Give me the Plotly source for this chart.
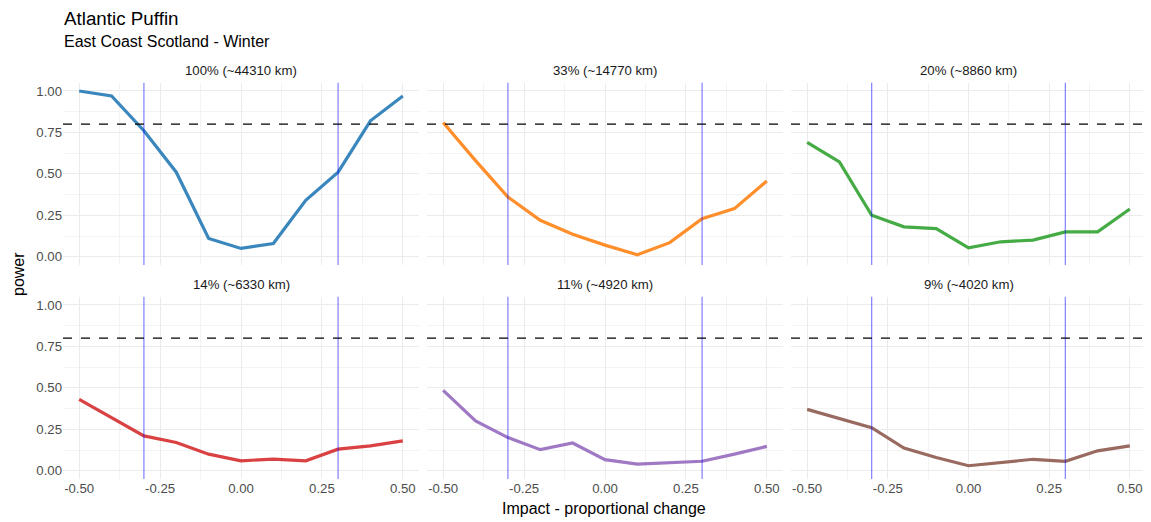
import plotly.graph_objects as go

impact = [-0.5, -0.4, -0.3, -0.2, -0.1, 0.0, 0.1, 0.2, 0.3, 0.4, 0.5]

panel_titles = ["100% (~44310 km)", "33% (~14770 km)", "20% (~8860 km)",
                "14% (~6330 km)", "11% (~4920 km)", "9% (~4020 km)"]

power_100 = [1.00, 0.97, 0.76, 0.51, 0.11, 0.05, 0.08, 0.34, 0.51, 0.82, 0.97]
power_33 = [0.81, 0.58, 0.36, 0.22, 0.135, 0.07, 0.012, 0.085, 0.23, 0.29, 0.457]
power_20 = [0.69, 0.572, 0.25, 0.18, 0.17, 0.054, 0.09, 0.10, 0.15, 0.15, 0.288]
power_14 = [0.43, 0.32, 0.21, 0.17, 0.10, 0.06, 0.07, 0.06, 0.13, 0.15, 0.18]
power_11 = [0.485, 0.30, 0.20, 0.127, 0.167, 0.067, 0.04, 0.05, 0.057, 0.10, 0.147]
power_9 = [0.37, 0.317, 0.26, 0.137, 0.08, 0.03, 0.05, 0.069, 0.057, 0.12, 0.15]

series = [power_100, power_33, power_20, power_14, power_11, power_9]
colors = ["#1f77b4", "#ff7f0e", "#2ca02c", "#d62728", "#9467bd", "#8c564b"]

power_threshold = 0.8
impact_markers = [-0.3, 0.3]

x_ticks = [-0.5, -0.25, 0.0, 0.25, 0.5]
x_ticktext = ["-0.50", "-0.25", "0.00", "0.25", "0.50"]
y_ticks = [0.0, 0.25, 0.5, 0.75, 1.0]
y_ticktext = ["0.00", "0.25", "0.50", "0.75", "1.00"]

# page body has an 8px margin: figure is drawn offset by (8, 8)
OFF = 8
W, H = 1151 - OFF, 522 - OFF
FONT = "Liberation Sans, Arial, sans-serif"


def px_x(v):
    return (v - OFF) / W


def px_y(v):
    return 1 - (v - OFF) / H


col_px = [(63, 419), (427, 783), (791, 1146)]
row_px = [(82.7, 265), (296.7, 479)]

fig = go.Figure()
layout_axes = {}
for i, vals in enumerate(series):
    r, c = divmod(i, 3)
    n = i + 1
    xa = "x" if n == 1 else f"x{n}"
    ya = "y" if n == 1 else f"y{n}"
    fig.add_trace(go.Scatter(
        x=impact, y=vals, mode="lines", xaxis=xa, yaxis=ya,
        line=dict(color=colors[i], width=3.2), opacity=0.88, showlegend=False,
    ))
    x0, x1 = col_px[c]
    yt, yb = row_px[r]
    xkey = "xaxis" if n == 1 else f"xaxis{n}"
    ykey = "yaxis" if n == 1 else f"yaxis{n}"
    layout_axes[xkey] = dict(
        domain=[px_x(x0), px_x(x1)], anchor=ya, range=[-0.55, 0.55],
        tickvals=x_ticks, ticktext=x_ticktext, showticklabels=(r == 1),
        showgrid=True, gridcolor="#ebebeb", gridwidth=1,
        minor=dict(dtick=0.125, tick0=-0.5, showgrid=True, gridcolor="#f3f3f3", gridwidth=1),
        zeroline=False, showline=False, ticks="",
        tickfont=dict(family=FONT, size=13.2, color="#4d4d4d"),
    )
    layout_axes[ykey] = dict(
        domain=[px_y(yb), px_y(yt)], anchor=xa, range=[-0.05, 1.05],
        tickvals=y_ticks, ticktext=y_ticktext, showticklabels=(c == 0),
        showgrid=True, gridcolor="#ebebeb", gridwidth=1,
        minor=dict(dtick=0.125, tick0=0, showgrid=True, gridcolor="#f3f3f3", gridwidth=1),
        zeroline=False, showline=False, ticks="",
        tickfont=dict(family=FONT, size=13.2, color="#4d4d4d"),
    )
    for xv in impact_markers:
        fig.add_shape(type="line", xref=xa, yref=f"{ya} domain", x0=xv, x1=xv, y0=0, y1=1,
                      line=dict(color="rgba(0,0,255,0.5)", width=1.2), layer="above")
    fig.add_shape(type="line", xref=f"{xa} domain", yref=ya, x0=0, x1=1,
                  y0=power_threshold, y1=power_threshold,
                  line=dict(color="black", width=1.2, dash="dash"), layer="above")
    fig.add_annotation(text=panel_titles[i], xref="paper", yref="paper",
                       x=px_x((x0 + x1) / 2), y=px_y(yt - 12), showarrow=False,
                       xanchor="center", yanchor="middle",
                       font=dict(family=FONT, size=13.2, color="#1a1a1a"))

fig.add_annotation(text="Atlantic Puffin", xref="paper", yref="paper", x=px_x(62), y=px_y(18.5),
                   xanchor="left", yanchor="middle", showarrow=False,
                   font=dict(family=FONT, size=18.8, color="black"))
fig.add_annotation(text="East Coast Scotland - Winter", xref="paper", yref="paper", x=px_x(62),
                   y=px_y(41), xanchor="left", yanchor="middle", showarrow=False,
                   font=dict(family=FONT, size=16, color="black"))
fig.add_annotation(text="power", xref="paper", yref="paper", x=px_x(18), y=px_y(274),
                   xanchor="center", yanchor="middle", showarrow=False, textangle=-90,
                   font=dict(family=FONT, size=16, color="black"))
fig.add_annotation(text="Impact - proportional change", xref="paper", yref="paper",
                   x=px_x(604), y=px_y(508), xanchor="center", yanchor="middle",
                   showarrow=False, font=dict(family=FONT, size=16, color="black"))

fig.update_layout(
    width=W, height=H, margin=dict(l=0, r=0, t=0, b=0),
    plot_bgcolor="white", paper_bgcolor="white",
    font=dict(family=FONT), **layout_axes,
)
fig.write_html("out.html")
